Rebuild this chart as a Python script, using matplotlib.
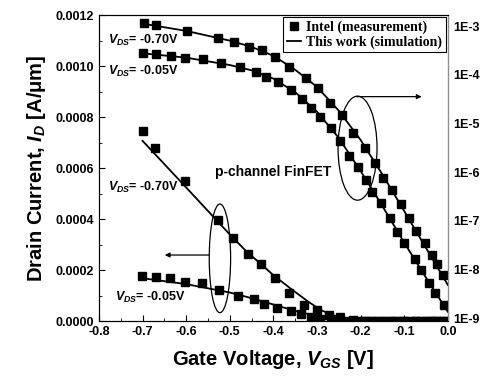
import numpy as np
import matplotlib
matplotlib.use("Agg")
import matplotlib.pyplot as plt
from matplotlib.patches import Ellipse
from matplotlib.ticker import MultipleLocator, FixedLocator, FixedFormatter
#
# -----------------------------------------------------------------------------
#
""" Data read from the reference figure """
# measurement, linear axis (left)
V_lin_070 = [-0.698, -0.671, -0.603, -0.526, -0.493, -0.458, -0.429, -0.396,
             -0.364, -0.329, -0.299, -0.272, -0.247, -0.217, -0.190, -0.167,
             -0.148, -0.129, -0.108, -0.089, -0.073, -0.052, -0.037, -0.025,
             -0.010]
I_lin_070 = [7.46e-4, 6.80e-4, 5.49e-4, 3.95e-4, 3.24e-4, 2.63e-4, 2.22e-4,
             1.67e-4, 1.11e-4, 6.3e-5, 4.3e-5, 2.35e-5, 1.45e-5, 5e-6, 2e-6,
             1e-6, 0, 0, 0, 0, 0, 0, 0, 0, 0]

V_lin_005 = [-0.702, -0.670, -0.636, -0.603, -0.564, -0.524, -0.480, -0.444,
             -0.421, -0.391, -0.360, -0.337, -0.314, -0.293, -0.268, -0.247,
             -0.226, -0.206, -0.188, -0.174, -0.153, -0.133, -0.117, -0.100,
             -0.075, -0.062, -0.043, -0.029, -0.008]
I_lin_005 = [1.78e-4, 1.74e-4, 1.67e-4, 1.54e-4, 1.48e-4, 1.22e-4, 9.9e-5,
             8.5e-5, 6.7e-5, 5.2e-5, 3.8e-5, 2.6e-5, 1.45e-5, 6.7e-6, 4e-6,
             2e-6, 1e-6, 0, 0, 0, 0, 0, 0, 0, 0, 0, 0, 0, 0]

# measurement, log axis (right)
V_log_070 = [-0.697, -0.668, -0.599, -0.526, -0.490, -0.455, -0.427, -0.396,
             -0.363, -0.325, -0.297, -0.270, -0.243, -0.217, -0.190, -0.167,
             -0.148, -0.129, -0.108, -0.089, -0.073, -0.052, -0.037, -0.025,
             -0.010]
I_log_070 = [1.135e-3, 1.05e-3, 8.0e-4, 5.75e-4, 4.76e-4, 3.76e-4, 3.21e-4,
             2.34e-4, 1.44e-4, 8.43e-5, 5.26e-5, 2.66e-5, 1.49e-5, 6.44e-6,
             3.08e-6, 1.52e-6, 7.40e-7, 4.19e-7, 2.21e-7, 1.12e-7, 6.27e-8,
             3.45e-8, 1.99e-8, 1.30e-8, 7.7e-9]

V_log_005 = [-0.698, -0.668, -0.635, -0.603, -0.562, -0.521, -0.477, -0.440,
             -0.417, -0.389, -0.359, -0.335, -0.313, -0.292, -0.268, -0.247,
             -0.226, -0.206, -0.188, -0.174, -0.153, -0.133, -0.117, -0.100,
             -0.075, -0.062, -0.043, -0.029, -0.008]
I_log_005 = [2.75e-4, 2.62e-4, 2.42e-4, 2.17e-4, 2.07e-4, 1.76e-4, 1.42e-4,
             1.15e-4, 9.18e-5, 7.08e-5, 4.85e-5, 3.21e-5, 2.10e-5, 1.33e-5,
             7.93e-6, 4.25e-6, 2.14e-6, 1.27e-6, 6.73e-7, 3.96e-7, 2.29e-7,
             1.12e-7, 5.81e-8, 3.45e-8, 1.64e-8, 9.77e-9, 5.21e-9, 3.24e-9,
             1.87e-9]

# simulation
V_sim_lin_070 = [-0.70, -0.60, -0.50, -0.46, -0.43, -0.40, -0.36, -0.32, -0.29,
                 -0.25, -0.20, -0.15, -0.10, 0.0]
I_sim_lin_070 = [7.07e-4, 5.24e-4, 3.40e-4, 2.70e-4, 2.26e-4, 1.80e-4, 1.27e-4,
                 7.6e-5, 4.2e-5, 1.5e-5, 4e-6, 1e-6, 3e-7, 1e-8]
V_sim_lin_005 = [-0.70, -0.60, -0.50, -0.45, -0.40, -0.35, -0.30, -0.25, -0.20,
                 -0.10, 0.0]
I_sim_lin_005 = [1.68e-4, 1.45e-4, 1.12e-4, 9.0e-5, 6.5e-5, 4.0e-5, 2.0e-5,
                 8e-6, 2.5e-6, 3e-7, 0]

V_sim_log = [-0.70, -0.60, -0.50, -0.45, -0.40, -0.35, -0.30, -0.25, -0.20,
             -0.15, -0.10, -0.05, 0.0]
I_sim_log_070 = [1.12e-3, 7.94e-4, 5.01e-4, 3.72e-4, 2.45e-4, 1.26e-4, 5.62e-5,
                 1.82e-5, 4.57e-6, 8.91e-7, 1.58e-7, 2.75e-8, 4.79e-9]
I_sim_log_005 = [2.75e-4, 2.24e-4, 1.58e-4, 1.23e-4, 8.32e-5, 4.37e-5, 1.74e-5,
                 5.01e-6, 1.05e-6, 2.0e-7, 3.55e-8, 6.76e-9, 1.35e-9]

log_ticks = [1e-3, 1e-4, 1e-5, 1e-6, 1e-7, 1e-8, 1e-9]
log_tick_labels = ["1E-3", "1E-4", "1E-5", "1E-6", "1E-7", "1E-8", "1E-9"]
#
# -----------------------------------------------------------------------------
#
""" Style """
plt.rcParams['font.family'] = ['Liberation Sans', 'DejaVu Sans']
plt.rcParams['font.weight'] = 'bold'
plt.rcParams['mathtext.fontset'] = 'custom'
plt.rcParams['mathtext.rm'] = 'Liberation Sans:bold'
plt.rcParams['mathtext.it'] = 'Liberation Sans:italic:bold'
plt.rcParams['mathtext.bf'] = 'Liberation Sans:bold'

ms = 5.6
lw = 1.3
#
# -----------------------------------------------------------------------------
#
""" Plot """
f = plt.figure(figsize=(4.8, 3.85), dpi=100)
ax = f.add_axes([0.206, 0.166, 0.727, 0.795])
ax2 = ax.twinx()

# linear axis
ax.plot(V_lin_070, I_lin_070, 's', c='k', ms=ms)
ax.plot(V_lin_005, I_lin_005, 's', c='k', ms=ms)
ax.plot(V_sim_lin_070, I_sim_lin_070, '-', c='k', lw=lw)
ax.plot(V_sim_lin_005, I_sim_lin_005, '-', c='k', lw=lw)

# log axis
h1, = ax2.plot(V_log_070, I_log_070, 's', c='k', ms=ms,
               label='Intel (measurement)')
ax2.plot(V_log_005, I_log_005, 's', c='k', ms=ms)
h2, = ax2.plot(V_sim_log, I_sim_log_070, '-', c='k', lw=lw,
               label='This work (simulation)')
ax2.plot(V_sim_log, I_sim_log_005, '-', c='k', lw=lw)

ax.set_xlim(-0.8, 0.0)
ax.set_ylim(0, 0.0012)
ax2.set_yscale('log')
ax2.set_ylim(10**-9.062, 10**-2.774)

ax.xaxis.set_major_locator(MultipleLocator(0.1))
ax.xaxis.set_minor_locator(MultipleLocator(0.05))
ax.yaxis.set_major_locator(MultipleLocator(0.0002))
ax.yaxis.set_minor_locator(MultipleLocator(0.0001))
ax.xaxis.set_major_formatter(matplotlib.ticker.FuncFormatter(
    lambda v, p: "%.1f" % v))
ax.yaxis.set_major_formatter(matplotlib.ticker.FuncFormatter(
    lambda v, p: "%.4f" % v))
ax.tick_params(which='both', direction='in', labelsize=9, top=False,
               right=False)
ax.tick_params(which='major', length=4)
ax.tick_params(which='minor', length=2)

ax2.yaxis.set_major_locator(FixedLocator(log_ticks))
ax2.yaxis.set_major_formatter(FixedFormatter(log_tick_labels))
ax2.yaxis.set_minor_locator(FixedLocator([]))
ax2.tick_params(which='both', length=0, labelsize=9, pad=4)
ax2.spines['right'].set_color('#909090')

ax.set_xlabel('Gate Voltage, $V_{GS}$ [V]', fontsize=14.5, fontweight='bold',
              labelpad=7)
ax.set_ylabel('Drain Current, $I_{D}$ [A/\u03bcm]', fontsize=14.5,
              fontweight='bold', labelpad=5)

# annotations
ax.text(-0.779, 0.00110, '$V_{DS}$= -0.70V', fontsize=9, va='center')
ax.text(-0.779, 0.00098, '$V_{DS}$= -0.05V', fontsize=9, va='center')
ax.text(-0.780, 0.000525, '$V_{DS}$= -0.70V', fontsize=9, va='center')
ax.text(-0.763, 0.000094, '$V_{DS}$= -0.05V', fontsize=9, va='center')
ax.text(-0.534, 0.000584, 'p-channel FinFET', fontsize=10, va='center')

ax.add_patch(Ellipse((-0.5225, 0.000246), 0.049, 0.000426, fill=False,
                     ec='k', lw=0.9))
ax.annotate('', xy=(-0.649, 0.000259), xytext=(-0.547, 0.000259),
            arrowprops=dict(arrowstyle='-|>', color='k', lw=0.9,
                            mutation_scale=7, shrinkA=0, shrinkB=0))
ax.add_patch(Ellipse((-0.207, 0.000678), 0.0894, 0.000408, fill=False,
                     ec='k', lw=0.9))
ax.annotate('', xy=(-0.060, 0.00088), xytext=(-0.209, 0.00088),
            arrowprops=dict(arrowstyle='-|>', color='k', lw=0.9,
                            mutation_scale=7, shrinkA=0, shrinkB=0))

leg = ax2.legend(handles=[h1, h2], loc='upper right', fancybox=False,
                 edgecolor='k', framealpha=1,
                 prop={'family': 'Liberation Serif', 'weight': 'bold',
                       'size': 10},
                 handlelength=1.0, handletextpad=0.4, borderaxespad=0.15,
                 labelspacing=0.1, borderpad=0.25)
leg.get_frame().set_linewidth(0.8)

f.savefig('out.png', dpi=100)
